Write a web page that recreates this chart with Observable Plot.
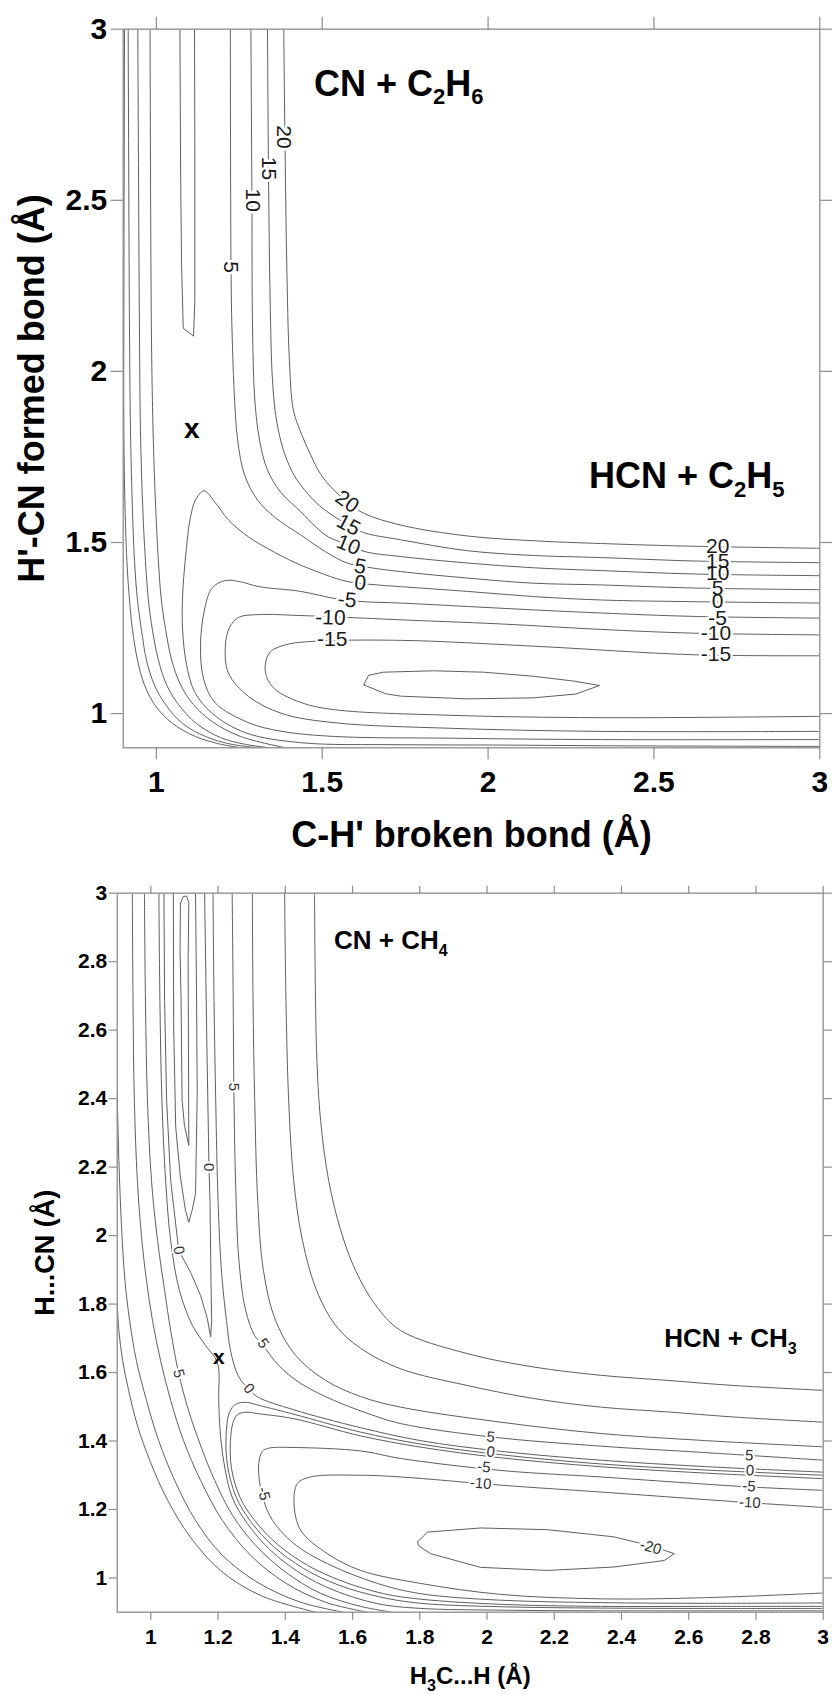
<!DOCTYPE html>
<html><head><meta charset="utf-8">
<script src="https://cdn.jsdelivr.net/npm/d3@7"></script>
<script src="https://cdn.jsdelivr.net/npm/@observablehq/plot@0.6"></script>
<style>
html,body{margin:0;padding:0;background:#fff;overflow:hidden}
#chart svg{display:block}
</style></head><body><div id="chart"></div>
<script>
// ================= DATA =================
// ---- Top panel (CN + C2H6), contour polylines [C-H' (Å), H'-CN (Å)] ----
const topTicks = [1, 1.5, 2, 2.5, 3];
const top_c20 = [[1.384,3.0],[1.388,2.646],[1.394,2.267],[1.401,2.033],[1.413,1.887],[1.435,1.823],[1.465,1.756],[1.495,1.700],[1.534,1.654],[1.579,1.616],[1.624,1.586],[1.736,1.551],[1.938,1.519],[2.137,1.505],[2.339,1.497],[2.619,1.489],[3.0,1.483]];
const top_c15 = [[1.335,3.0],[1.338,2.588],[1.343,2.208],[1.350,1.975],[1.362,1.858],[1.383,1.770],[1.410,1.706],[1.435,1.668],[1.480,1.618],[1.525,1.583],[1.579,1.551],[1.624,1.529],[1.736,1.508],[1.938,1.476],[2.137,1.462],[2.339,1.456],[2.619,1.446],[3.0,1.441]];
const top_c10 = [[1.285,3.0],[1.288,2.5],[1.290,2.121],[1.297,1.914],[1.311,1.799],[1.335,1.712],[1.374,1.648],[1.435,1.590],[1.480,1.546],[1.519,1.516],[1.579,1.493],[1.630,1.473],[1.736,1.459],[1.938,1.440],[2.137,1.426],[2.339,1.418],[2.619,1.408],[3.0,1.403]];
const top_c5 = [[1.223,3.0],[1.225,2.305],[1.228,2.121],[1.236,1.914],[1.245,1.799],[1.266,1.697],[1.305,1.624],[1.359,1.572],[1.435,1.522],[1.510,1.473],[1.575,1.440],[1.655,1.425],[1.736,1.415],[1.938,1.396],[2.137,1.381],[2.339,1.376],[2.619,1.367],[3.0,1.362]];
const top_c0 = [[3.0,0.904],[2.640,0.905],[2.339,0.906],[2.037,0.908],[1.736,0.909],[1.435,0.915],[1.269,0.944],[1.169,1.000],[1.115,1.064],[1.091,1.143],[1.079,1.245],[1.079,1.341],[1.088,1.458],[1.103,1.575],[1.118,1.624],[1.143,1.651],[1.178,1.616],[1.217,1.566],[1.278,1.516],[1.359,1.470],[1.440,1.432],[1.575,1.386],[1.666,1.376],[1.736,1.371],[1.938,1.357],[2.137,1.342],[2.339,1.332],[2.619,1.327],[3.0,1.323]];
const top_cm5 = [[3.0,1.279],[2.619,1.284],[2.339,1.294],[2.137,1.303],[1.938,1.313],[1.736,1.323],[1.625,1.327],[1.545,1.335],[1.435,1.357],[1.309,1.371],[1.254,1.385],[1.208,1.389],[1.168,1.367],[1.145,1.303],[1.133,1.196],[1.143,1.099],[1.178,1.031],[1.279,0.973],[1.379,0.948],[1.540,0.933],[1.887,0.928],[2.339,0.924],[3.0,0.924]];
const top_cm10 = [[3.0,1.230],[2.619,1.235],[2.339,1.246],[2.037,1.262],[1.736,1.274],[1.600,1.280],[1.450,1.286],[1.299,1.289],[1.248,1.281],[1.220,1.251],[1.208,1.196],[1.217,1.119],[1.278,1.050],[1.379,1.000],[1.540,0.973],[1.887,0.957],[2.339,0.948],[3.0,0.948]];
const top_cm15 = [[3.0,1.169],[2.619,1.172],[2.137,1.197],[1.736,1.214],[1.470,1.211],[1.389,1.201],[1.344,1.181],[1.329,1.148],[1.332,1.108],[1.359,1.070],[1.440,1.031],[1.540,1.011],[1.887,0.995],[2.339,0.988],[3.0,0.992]];
const top_cm20 = [[1.625,1.084],[1.640,1.112],[1.685,1.121],[1.835,1.125],[1.986,1.121],[2.137,1.109],[2.258,1.095],[2.336,1.082],[2.264,1.057],[2.137,1.046],[1.938,1.043],[1.736,1.051],[1.691,1.058],[1.625,1.084]];
const top_reactant = [[1.071,3.0],[1.073,2.597],[1.076,2.305],[1.081,2.126],[1.112,2.103],[1.116,2.208],[1.116,2.646],[1.115,3.0]];
const top_wallA = [[0.904,3.0],[0.902,2.208],[0.902,1.820],[0.905,1.624],[0.911,1.447],[0.919,1.332],[0.928,1.245],[0.943,1.157],[0.964,1.084],[0.997,1.023],[1.049,0.971],[1.118,0.933],[1.187,0.912],[1.254,0.9]];
const top_wallB = [[0.915,3.0],[0.919,2.121],[0.922,1.829],[0.927,1.624],[0.934,1.447],[0.943,1.332],[0.955,1.245],[0.970,1.157],[0.994,1.084],[1.028,1.026],[1.079,0.971],[1.148,0.933],[1.223,0.911],[1.308,0.9]];
const top_wallC = [[0.944,3.0],[0.949,2.121],[0.952,1.829],[0.958,1.624],[0.967,1.447],[0.976,1.332],[0.988,1.245],[1.006,1.157],[1.031,1.084],[1.067,1.026],[1.121,0.971],[1.193,0.930],[1.269,0.910],[1.344,0.9]];
const top_wallD = [[0.981,3.0],[0.985,2.121],[0.990,1.829],[0.997,1.624],[1.006,1.447],[1.015,1.332],[1.028,1.245],[1.046,1.157],[1.073,1.084],[1.112,1.026],[1.169,0.976],[1.254,0.933],[1.389,0.9]];
// contour labels (top)
const topLblText = ["20","15","10","5", "20","15","10","5","0","-5","-10","-15", "20","15","10","5","0","-5","-10","-15"];
const topLblX = [1.384,1.339,1.289,1.223, 1.575,1.579,1.579,1.615,1.615,1.575,1.525,1.530, 2.692,2.692,2.692,2.692,2.692,2.692,2.687,2.687];
const topLblY = [2.685,2.593,2.5,2.305, 1.619,1.551,1.493,1.430,1.382,1.332,1.280,1.216, 1.488,1.444,1.410,1.367,1.328,1.279,1.235,1.172];
const topLblRot = [90,90,90,90, 35,28,22,11,6,5,2,0, 0,0,0,0,0,0,0,0];
const topSpecies = [{t:"CN + C_2H_6", x:1.475, y:2.806},{t:"HCN + C_2H_5", x:2.304, y:1.658}];
const topSaddle = [{t:"x", x:1.107, y:1.804}];
const topXTitle = "C-H' broken bond (Å)";
const topYTitle = "H'-CN formed bond (Å)";

// ---- Bottom panel (CN + CH4), contour polylines [H3C...H (Å), H...CN (Å)] ----
const botTicks = [1, 1.2, 1.4, 1.6, 1.8, 2, 2.2, 2.4, 2.6, 2.8, 3];
const bot_wall0 = [[0.900,1.802],[0.905,1.723],[0.916,1.635],[0.934,1.548],[0.960,1.446],[0.999,1.338],[1.050,1.227],[1.118,1.119],[1.207,1.022],[1.326,0.949],[1.490,0.900]];
const bot_wall1 = [[0.900,2.415],[0.905,2.220],[0.913,2.024],[0.923,1.869],[0.937,1.752],[0.957,1.635],[0.987,1.519],[1.023,1.402],[1.071,1.285],[1.133,1.168],[1.213,1.066],[1.321,0.985],[1.446,0.929],[1.573,0.900]];
const bot_wall2 = [[0.945,3.0],[0.947,2.687],[0.951,2.395],[0.960,2.161],[0.972,2.001],[0.987,1.869],[1.005,1.752],[1.029,1.635],[1.059,1.519],[1.097,1.402],[1.148,1.285],[1.213,1.168],[1.297,1.066],[1.401,0.985],[1.520,0.929],[1.645,0.900]];
const bot_wall3 = [[0.981,3.0],[0.984,2.687],[0.990,2.395],[1.002,2.161],[1.020,1.986],[1.041,1.840],[1.059,1.723],[1.083,1.597],[1.112,1.490],[1.151,1.379],[1.190,1.285],[1.243,1.183],[1.312,1.095],[1.401,1.017],[1.505,0.955],[1.624,0.917],[1.719,0.900]];
const bot_saddleLine = [[1.024,3.0],[1.027,2.687],[1.033,2.395],[1.044,2.161],[1.059,1.986],[1.085,1.840],[1.124,1.737],[1.163,1.679],[1.198,1.629],[1.202,1.519],[1.206,1.432],[1.218,1.334],[1.242,1.236],[1.287,1.159],[1.356,1.081],[1.446,1.013],[1.545,0.964],[1.674,0.925],[1.803,0.911],[2.041,0.906],[2.338,0.904],[3.0,0.904]];
const bot_loop1 = [[1.088,2.970],[1.096,2.990],[1.106,2.992],[1.113,2.973],[1.111,2.804],[1.112,2.541],[1.113,2.263],[1.100,2.322],[1.093,2.395],[1.090,2.687],[1.087,2.833],[1.088,2.970]];
const bot_loop2 = [[1.067,3.0],[1.068,2.609],[1.074,2.317],[1.088,2.171],[1.103,2.074],[1.113,2.039],[1.123,2.074],[1.133,2.122],[1.138,2.414],[1.136,2.706],[1.133,3.0]];
const bot_loop3 = [[1.039,3.0],[1.041,2.687],[1.047,2.395],[1.059,2.161],[1.083,1.957],[1.118,1.893],[1.148,1.825],[1.168,1.758],[1.178,1.704],[1.181,1.752],[1.179,1.869],[1.176,2.103],[1.173,2.200],[1.167,2.541],[1.160,3.0]];
const bot_c0a = [[1.185,3.0],[1.188,2.687],[1.193,2.395],[1.200,2.103],[1.210,1.898],[1.225,1.752],[1.237,1.665],[1.255,1.601],[1.273,1.571],[1.292,1.551],[1.317,1.529],[1.426,1.491],[1.624,1.439],[1.803,1.401],[2.041,1.370],[2.338,1.344],[2.636,1.326],[3.0,1.309]];
const bot_c0b = [[3.0,1.300],[2.636,1.316],[2.338,1.333],[2.041,1.360],[1.803,1.391],[1.624,1.426],[1.426,1.478],[1.326,1.503],[1.282,1.513],[1.252,1.507],[1.234,1.484],[1.224,1.417],[1.228,1.329],[1.254,1.236],[1.297,1.165],[1.365,1.092],[1.454,1.028],[1.559,0.979],[1.684,0.944],[1.803,0.926],[2.041,0.916],[2.338,0.912],[2.636,0.911],[3.0,0.911]];
const bot_c0c = [[3.0,1.290],[2.636,1.307],[2.338,1.325],[2.041,1.351],[1.803,1.382],[1.624,1.415],[1.426,1.465],[1.326,1.479],[1.282,1.484],[1.258,1.477],[1.245,1.455],[1.237,1.402],[1.240,1.320],[1.265,1.236],[1.309,1.168],[1.377,1.098],[1.466,1.037],[1.571,0.990],[1.693,0.954],[1.803,0.938],[2.041,0.923],[2.338,0.917],[2.636,0.917],[3.0,0.917]];
const bot_cm5 = [[3.0,1.256],[2.779,1.266],[2.338,1.295],[2.041,1.314],[1.743,1.349],[1.624,1.371],[1.426,1.381],[1.350,1.379],[1.332,1.370],[1.321,1.334],[1.326,1.266],[1.356,1.178],[1.426,1.100],[1.525,1.042],[1.674,0.984],[1.803,0.954],[2.041,0.935],[2.338,0.928],[2.636,0.926],[3.0,0.927]];
const bot_cm10 = [[3.0,1.206],[2.779,1.220],[2.338,1.251],[2.041,1.271],[1.743,1.295],[1.624,1.300],[1.475,1.295],[1.436,1.276],[1.426,1.217],[1.446,1.139],[1.525,1.071],[1.624,1.022],[1.803,0.984],[2.041,0.952],[2.338,0.939],[2.636,0.942],[3.0,0.956]];
const bot_cm20 = [[1.793,1.105],[1.823,1.134],[1.981,1.146],[2.180,1.141],[2.378,1.120],[2.487,1.094],[2.557,1.071],[2.527,1.051],[2.378,1.032],[2.180,1.022],[1.981,1.031],[1.832,1.071],[1.798,1.093],[1.793,1.105]];
const bot_c5 = [[1.242,3.0],[1.245,2.687],[1.247,2.434],[1.252,2.161],[1.262,1.928],[1.282,1.782],[1.309,1.708],[1.334,1.679],[1.380,1.621],[1.446,1.568],[1.544,1.519],[1.644,1.481],[1.743,1.451],[2.011,1.412],[2.338,1.385],[2.636,1.367],[2.779,1.358],[3.0,1.344]];
const bot_c10 = [[1.302,3.0],[1.304,2.687],[1.309,2.395],[1.318,2.103],[1.335,1.898],[1.371,1.752],[1.431,1.650],[1.520,1.577],[1.624,1.530],[1.743,1.499],[2.041,1.455],[2.338,1.422],[2.636,1.402],[3.0,1.383]];
const bot_c15 = [[1.398,3.0],[1.402,2.687],[1.410,2.395],[1.425,2.161],[1.451,1.986],[1.493,1.840],[1.550,1.737],[1.624,1.671],[1.743,1.611],[1.942,1.562],[2.140,1.524],[2.338,1.499],[2.537,1.485],[2.735,1.470],[3.0,1.455]];
const bot_c20 = [[1.487,3.0],[1.493,2.541],[1.505,2.336],[1.529,2.161],[1.565,2.015],[1.609,1.898],[1.669,1.796],[1.743,1.723],[1.942,1.655],[2.140,1.616],[2.338,1.592],[2.537,1.577],[2.735,1.562],[3.0,1.548]];
// contour labels (bottom)
const botLblText = ["5","0","0","5","5","0","-5","5","0","-5","-10","5","0","-5","-10","-20"];
const botLblX = [1.247,1.173,1.083,1.083,1.334,1.292,1.336,2.011,2.011,1.991,1.981,2.780,2.782,2.779,2.782,2.487];
const botLblY = [2.434,2.200,1.957,1.597,1.685,1.553,1.246,1.412,1.368,1.324,1.276,1.358,1.314,1.268,1.220,1.090];
const botLblRot = [90,90,78,75,55,50,78,7,7,6,5,4,4,4,4,16];
const botSpecies = [{t:"CN + CH_4", x:1.545, y:2.838},{t:"HCN + CH_3", x:2.527, y:1.674}];
const botSaddle = [{t:"x", x:1.202, y:1.626}];
const botXTitle = "H_3C...H (Å)";
const botYTitle = "H...CN (Å)";

// ================= HELPERS =================
const FONT = "'Liberation Sans', Arial, Helvetica, sans-serif";
const GRAY = "#8c8c8c", INK = "#5e5e5e";
const rows = (list) => list.flatMap(([name, pts]) => pts.map(([x, y]) => ({name, x, y})));
const lbls = (T, X, Y, R) => T.map((t, i) => ({t, x: X[i], y: Y[i], r: R[i]}));
const fmt = (d) => String(Math.round(d * 10) / 10);
function subscripts(svg, size, shift) {
  d3.select(svg).selectAll("text").each(function () {
    const s = this.textContent;
    if (!s.includes("_")) return;
    const parts = s.split(/_(\d)/);
    const t = d3.select(this);
    t.text(null);
    let down = false;
    parts.forEach((p, k) => {
      if (!p) return;
      const ts = t.append("tspan").text(p);
      if (k % 2 === 1) { ts.attr("font-size", size).attr("dy", shift); down = true; }
      else if (down) { ts.attr("dy", -shift); down = false; }
    });
  });
}
function bolden(svg) {
  d3.select(svg).selectAll('g[aria-label$="tick label"]').attr("font-weight", "bold");
}

// ================= TOP PLOT =================
const topSmooth = [["c20",top_c20],["c15",top_c15],["c10",top_c10],["c5",top_c5],["c0",top_c0],["cm5",top_cm5],["cm10",top_cm10],["cm15",top_cm15],["wA",top_wallA],["wB",top_wallB],["wC",top_wallC],["wD",top_wallD]];
const topSharp = [["cm20",top_cm20],["react",top_reactant]];
const topLabels = lbls(topLblText, topLblX, topLblY, topLblRot);

const topPlot = Plot.plot({
  width: 832, height: 870,
  marginLeft: 122.7, marginRight: 12.7, marginTop: 28.7, marginBottom: 122.7,
  style: {fontFamily: FONT, background: "white", color: "#000"},
  x: {domain: [0.9, 3], axis: null},
  y: {domain: [0.9, 3], axis: null},
  marks: [
    Plot.line(rows(topSmooth), {x: "x", y: "y", z: "name", curve: "catmull-rom", stroke: INK, strokeWidth: 1, clip: true}),
    Plot.line(rows(topSharp), {x: "x", y: "y", z: "name", curve: "linear", stroke: INK, strokeWidth: 1, clip: true}),
    Plot.text(topLabels, {x: "x", y: "y", text: "t", rotate: "r", fontSize: 21, fill: "white", stroke: "white", strokeWidth: 5}),
    Plot.text(topLabels, {x: "x", y: "y", text: "t", rotate: "r", fontSize: 21, fill: "#1a1a1a"}),
    Plot.frame({stroke: GRAY, strokeWidth: 1.3}),
    Plot.axisX(topTicks, {anchor: "bottom", tickSize: 12, tickPadding: 11, fontSize: 30, fontWeight: "bold", stroke: GRAY, strokeWidth: 1.2, fill: "#000", tickFormat: fmt, label: null}),
    Plot.axisX(topTicks, {anchor: "top", tickSize: 13, stroke: GRAY, strokeWidth: 1.2, tickFormat: () => "", label: null}),
    Plot.axisY(topTicks, {anchor: "left", tickSize: 12, tickPadding: 4, fontSize: 30, fontWeight: "bold", stroke: GRAY, strokeWidth: 1.2, fill: "#000", tickFormat: fmt, label: null}),
    Plot.axisY(topTicks, {anchor: "right", tickSize: 12, stroke: GRAY, strokeWidth: 1.2, tickFormat: () => "", label: null}),
    Plot.text(topSpecies, {x: "x", y: "y", text: "t", textAnchor: "start", lineAnchor: "bottom", fontSize: 36, fontWeight: "bold", fill: "#000"}),
    Plot.text(topSaddle, {x: "x", y: "y", text: "t", textAnchor: "middle", lineAnchor: "bottom", fontSize: 28, fontWeight: "bold", fill: "#000"}),
    Plot.text([topXTitle], {frameAnchor: "bottom", textAnchor: "middle", lineAnchor: "bottom", dy: 99.4, fontSize: 36, fontWeight: "bold", fill: "#000"}),
    Plot.text([topYTitle], {frameAnchor: "left", textAnchor: "middle", lineAnchor: "bottom", rotate: -90, dx: -79.4, fontSize: 36, fontWeight: "bold", fill: "#000"})
  ]
});
subscripts(topPlot, 22, 8.5);
bolden(topPlot);

// ================= BOTTOM PLOT =================
const botSmooth = [["w0",bot_wall0],["w1",bot_wall1],["w2",bot_wall2],["w3",bot_wall3],["sx",bot_saddleLine],["c0a",bot_c0a],["c0b",bot_c0b],["c0c",bot_c0c],["cm5",bot_cm5],["cm10",bot_cm10],["c5",bot_c5],["c10",bot_c10],["c15",bot_c15],["c20",bot_c20]];
const botSharp = [["l1",bot_loop1],["l2",bot_loop2],["l3",bot_loop3],["cm20",bot_cm20]];
const botLabels = lbls(botLblText, botLblX, botLblY, botLblRot);

const botPlot = Plot.plot({
  width: 832, height: 825,
  marginLeft: 116.7, marginRight: 9.3, marginTop: 22.7, marginBottom: 83.3,
  style: {fontFamily: FONT, background: "white", color: "#000"},
  x: {domain: [0.9, 3], axis: null},
  y: {domain: [0.9, 3], axis: null},
  marks: [
    Plot.line(rows(botSmooth), {x: "x", y: "y", z: "name", curve: "catmull-rom", stroke: INK, strokeWidth: 1, clip: true}),
    Plot.line(rows(botSharp), {x: "x", y: "y", z: "name", curve: "linear", stroke: INK, strokeWidth: 1, clip: true}),
    Plot.text(botLabels, {x: "x", y: "y", text: "t", rotate: "r", fontSize: 15, fill: "white", stroke: "white", strokeWidth: 4}),
    Plot.text(botLabels, {x: "x", y: "y", text: "t", rotate: "r", fontSize: 15, fill: "#333"}),
    Plot.frame({stroke: GRAY, strokeWidth: 1.3}),
    Plot.axisX(botTicks, {anchor: "bottom", tickSize: 8, tickPadding: 8.4, fontSize: 21, fontWeight: "bold", stroke: GRAY, strokeWidth: 1.2, fill: "#000", tickFormat: fmt, label: null}),
    Plot.axisX(botTicks, {anchor: "top", tickSize: 8, stroke: GRAY, strokeWidth: 1.2, tickFormat: () => "", label: null}),
    Plot.axisY(botTicks, {anchor: "left", tickSize: 8, tickPadding: 2, fontSize: 21, fontWeight: "bold", stroke: GRAY, strokeWidth: 1.2, fill: "#000", tickFormat: fmt, label: null}),
    Plot.axisY(botTicks, {anchor: "right", tickSize: 8, stroke: GRAY, strokeWidth: 1.2, tickFormat: () => "", label: null}),
    Plot.text(botSpecies, {x: "x", y: "y", text: "t", textAnchor: "start", lineAnchor: "bottom", fontSize: 26, fontWeight: "bold", fill: "#000"}),
    Plot.text(botSaddle, {x: "x", y: "y", text: "t", textAnchor: "middle", lineAnchor: "bottom", fontSize: 21, fontWeight: "bold", fill: "#000"}),
    Plot.text([botXTitle], {frameAnchor: "bottom", textAnchor: "middle", lineAnchor: "bottom", dy: 71.3, fontSize: 24, fontWeight: "bold", fill: "#000"}),
    Plot.text([botYTitle], {frameAnchor: "left", textAnchor: "middle", lineAnchor: "bottom", rotate: -90, dx: -63.4, fontSize: 27, fontWeight: "bold", fill: "#000"})
  ]
});
subscripts(botPlot, 16, 7);
bolden(botPlot);

const root = document.getElementById("chart");
root.append(topPlot, botPlot);
</script></body></html>
